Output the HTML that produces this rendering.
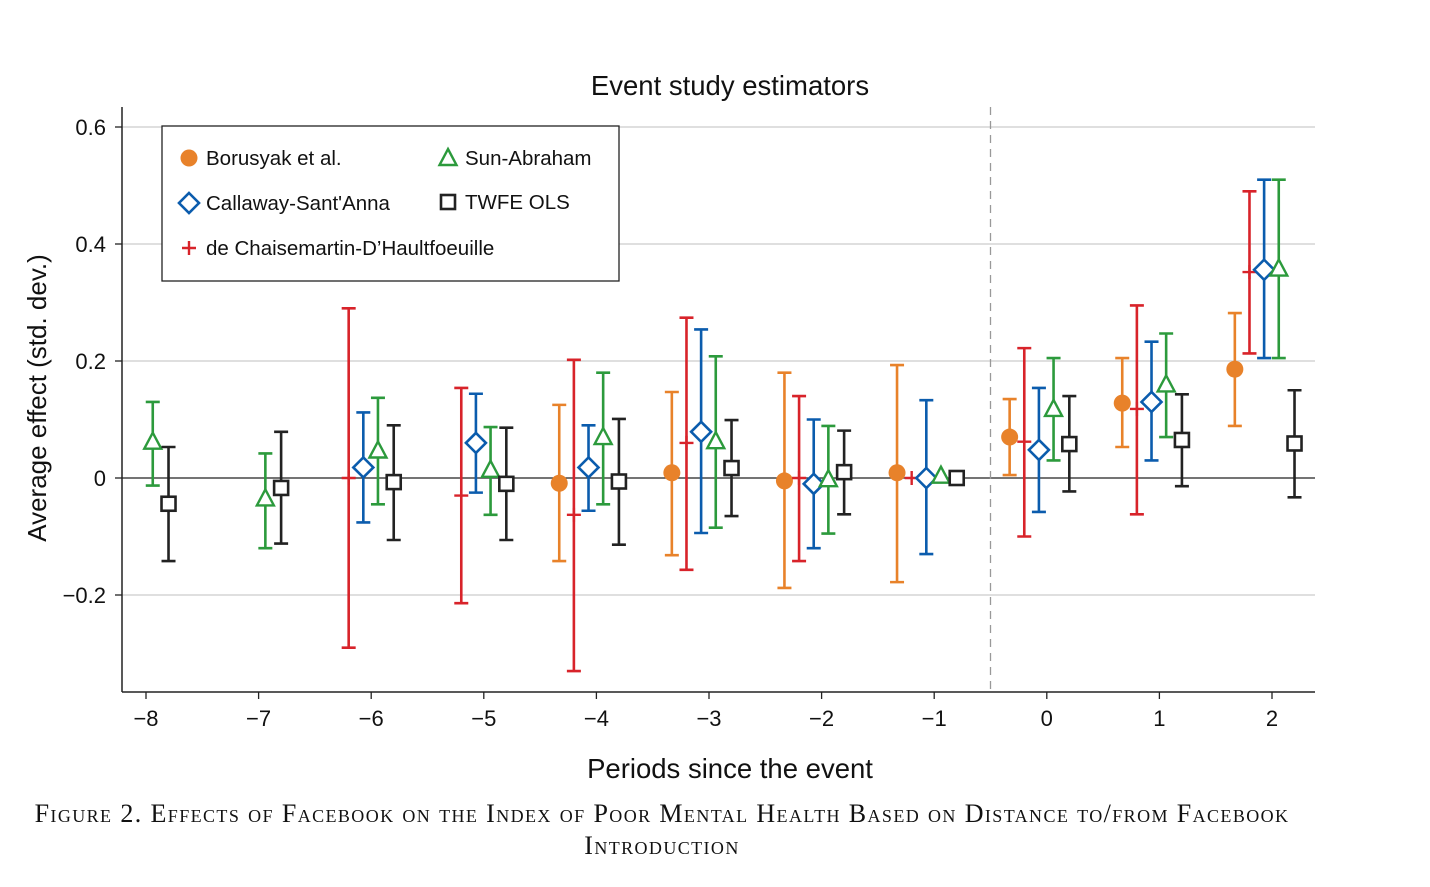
<!DOCTYPE html>
<html><head><meta charset="utf-8"><style>
body{margin:0;background:#fff;width:1430px;height:887px;overflow:hidden}
svg text{font-family:"Liberation Sans",sans-serif}
.cap{position:absolute;left:0;width:1324px;text-align:center;font-family:"Liberation Serif",serif;font-variant:small-caps;font-size:26px;color:#111;letter-spacing:1.4px;white-space:nowrap}
</style></head><body>
<svg id="chart" width="1430" height="887" style="position:absolute;left:0;top:0">
<g id="grid"></g><g id="axes"></g><g id="marks"></g><g id="legend"></g>
</svg>
<div class="cap" style="top:799px">Figure 2. Effects of Facebook on the Index of Poor Mental Health Based on Distance to/from Facebook</div>
<div class="cap" style="top:831px">Introduction</div>
<script>
const periods=[-8,-7,-6,-5,-4,-3,-2,-1,0,1,2];
const yTicks=[-0.2,0,0.2,0.4,0.6];
const yTickLabels=["\u22120.2","0","0.2","0.4","0.6"];
const xTickLabels=["\u22128","\u22127","\u22126","\u22125","\u22124","\u22123","\u22122","\u22121","0","1","2"];
// Borusyak
const borP=[-4,-3,-2,-1,0,1,2];
const borEst=[-0.009,0.009,-0.005,0.009,0.07,0.128,0.186];
const borHi=[0.125,0.147,0.18,0.193,0.135,0.205,0.282];
const borLo=[-0.142,-0.132,-0.188,-0.178,0.005,0.053,0.089];
// de Chaisemartin
const dcP=[-6,-5,-4,-3,-2,-1,0,1,2];
const dcEst=[0,-0.03,-0.063,0.06,0,0,0.062,0.118,0.352];
const dcHi=[0.29,0.154,0.202,0.274,0.14,0,0.222,0.295,0.49];
const dcLo=[-0.29,-0.214,-0.33,-0.157,-0.142,0,-0.1,-0.062,0.213];
// Callaway
const csP=[-6,-5,-4,-3,-2,-1,0,1,2];
const csEst=[0.018,0.06,0.018,0.079,-0.01,0,0.048,0.13,0.356];
const csHi=[0.112,0.144,0.09,0.254,0.1,0.133,0.154,0.233,0.51];
const csLo=[-0.076,-0.025,-0.056,-0.094,-0.12,-0.13,-0.058,0.03,0.205];
// Sun-Abraham
const saP=[-8,-7,-6,-5,-4,-3,-2,-1,0,1,2];
const saEst=[0.062,-0.035,0.047,0.014,0.07,0.063,-0.002,0.004,0.118,0.16,0.358];
const saHi=[0.13,0.042,0.137,0.087,0.18,0.208,0.089,0.004,0.205,0.247,0.51];
const saLo=[-0.013,-0.12,-0.045,-0.063,-0.045,-0.085,-0.095,0.004,0.03,0.07,0.205];
// TWFE
const twP=[-8,-7,-6,-5,-4,-3,-2,-1,0,1,2];
const twEst=[-0.044,-0.017,-0.007,-0.01,-0.006,0.017,0.01,0,0.058,0.065,0.059];
const twHi=[0.053,0.079,0.09,0.086,0.101,0.099,0.081,0,0.14,0.143,0.15];
const twLo=[-0.142,-0.112,-0.106,-0.106,-0.114,-0.065,-0.062,0,-0.023,-0.014,-0.033];

const X=p=>146+(p+8)*112.6;
const Y=v=>478-v*585;
const NS="http://www.w3.org/2000/svg";
function mk(tag,attrs,parent){const e=document.createElementNS(NS,tag);for(const k in attrs)e.setAttribute(k,attrs[k]);parent.appendChild(e);return e;}
const grid=document.getElementById('grid'),axes=document.getElementById('axes'),marks=document.getElementById('marks'),leg=document.getElementById('legend');
const L=122,R=1315,T=107,B=692;
yTicks.forEach((v,i)=>{
 const g=mk('line',{x1:L,x2:R,y1:Y(v),y2:Y(v),stroke:v===0?'#222':'#ccc','stroke-width':1.3},grid);
 
 
 mk('line',{x1:L-7,x2:L,y1:Y(v),y2:Y(v),stroke:'#222','stroke-width':1.3},axes);
 const t=mk('text',{x:L-16,y:Y(v)+8,'text-anchor':'end','font-size':22,fill:'#111'},axes);t.textContent=yTickLabels[i];
 
 
});
periods.forEach((p,i)=>{
 mk('line',{x1:X(p),x2:X(p),y1:B,y2:B+7,stroke:'#222','stroke-width':1.3},axes);
 const t=mk('text',{x:X(p),y:B+34,'text-anchor':'middle','font-size':22,fill:'#111'},axes);t.textContent=xTickLabels[i];
 
 
});
mk('line',{x1:L,x2:L,y1:T,y2:B,stroke:'#222','stroke-width':1.5},axes);
mk('line',{x1:L,x2:R,y1:B,y2:B,stroke:'#222','stroke-width':1.5},axes);
const dl=mk('line',{x1:X(-0.5),x2:X(-0.5),y1:T,y2:B,stroke:'#999','stroke-width':1.3,'stroke-dasharray':'8,6'},axes);


let t=mk('text',{x:730,y:95,'text-anchor':'middle','font-size':27.5,fill:'#111'},axes);t.textContent='Event study estimators';

t=mk('text',{x:730,y:778,'text-anchor':'middle','font-size':27.5,fill:'#111'},axes);t.textContent='Periods since the event';

t=mk('text',{x:0,y:0,'text-anchor':'middle','font-size':26,fill:'#111',transform:'translate(46,398) rotate(-90)'},axes);t.textContent='Average effect (std. dev.)';


function marker(kind,cx,cy,col,parent){
 if(kind==='circle')return mk('circle',{cx,cy,r:8.5,fill:col},parent);
 if(kind==='diamond')return mk('path',{d:`M${cx},${cy-10}L${cx+10},${cy}L${cx},${cy+10}L${cx-10},${cy}Z`,fill:'#fff',stroke:col,'stroke-width':2.6},parent);
 if(kind==='tri')return mk('path',{d:`M${cx},${cy-9}L${cx+8.5},${cy+7}L${cx-8.5},${cy+7}Z`,fill:'#fff',stroke:col,'stroke-width':2.4},parent);
 if(kind==='square')return mk('rect',{x:cx-7,y:cy-7,width:14,height:14,fill:'#fff',stroke:col,'stroke-width':2.6},parent);
 if(kind==='plus')return mk('path',{d:`M${cx-7},${cy}H${cx+7}M${cx},${cy-7}V${cy+7}`,stroke:col,'stroke-width':2.4,fill:'none'},parent);
}
function series(name,P,E,H,Lo,off,col,kind){
 const g=mk('g',{},marks);
 
 
 P.forEach((p,i)=>{
  const x=X(p+off);
  if(H[i]!==Lo[i]){
   const e=mk('path',{d:`M${x},${Y(H[i])}V${Y(Lo[i])}M${x-7},${Y(H[i])}H${x+7}M${x-7},${Y(Lo[i])}H${x+7}`,stroke:col,'stroke-width':2.6,fill:'none'},g);
   
   
  }
  const m=marker(kind,x,Y(E[i]),col,g);
  
  
 });
}
const OR='#e8822a',RD='#d8232a',BL='#0b5cad',GR='#2c9a3c',BK='#222';
series('borusyak',borP,borEst,borHi,borLo,-0.33,OR,'circle');
series('dechaisemartin',dcP,dcEst,dcHi,dcLo,-0.2,RD,'plus');
series('callaway',csP,csEst,csHi,csLo,-0.07,BL,'diamond');
series('sun-abraham',saP,saEst,saHi,saLo,0.06,GR,'tri');
series('twfe',twP,twEst,twHi,twLo,0.2,BK,'square');
// legend
const lb=mk('rect',{x:162,y:126,width:457,height:155,fill:'#fff',stroke:'#222','stroke-width':1.3},leg);

const items=[['circle',OR,189,158,'Borusyak et al.'],['tri',GR,448,158,'Sun-Abraham'],['diamond',BL,189,203,"Callaway-Sant'Anna"],['square',BK,448,202,'TWFE OLS'],['plus',RD,189,248,'de Chaisemartin-D\u2019Haultfoeuille']];
items.forEach(it=>{
 const g=mk('g',{},leg);
 
 
 marker(it[0],it[2],it[3],it[1],g);
 const tx=mk('text',{x:it[2]+17,y:it[3]+7,'font-size':20.5,fill:'#111'},g);tx.textContent=it[4];
});
</script>
</body></html>
